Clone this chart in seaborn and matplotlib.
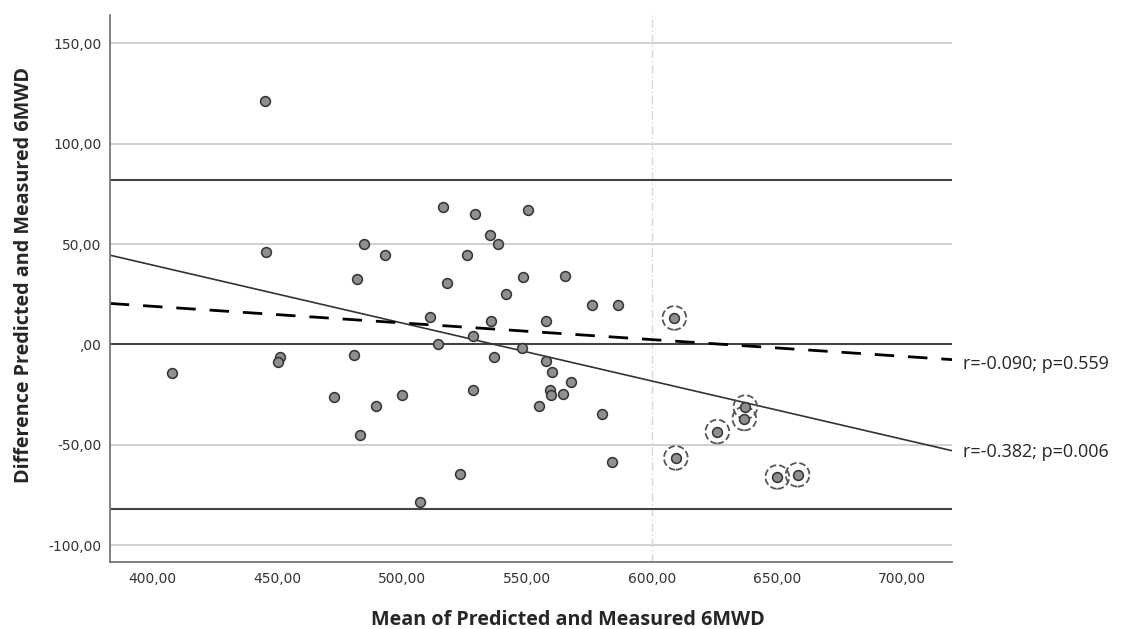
import numpy as np
import pandas as pd
import matplotlib
matplotlib.use("Agg")
import matplotlib.pyplot as plt
import seaborn as sns

# mean of predicted and measured 6MWD (x) / difference (y)
mean_main = [445.2, 445.3, 484.9, 493.1, 482.0, 516.4, 529.3, 550.2, 535.1, 538.4,
             525.9, 518.1, 548.4, 565.0, 541.4, 576.0, 586.3, 511.0, 535.5, 557.6,
             528.4, 514.2, 547.8, 536.6, 557.6, 559.9, 567.7, 559.0, 559.4, 564.4,
             528.3, 499.8, 554.6, 579.8, 584.0, 523.2, 507.1, 451.2, 450.2, 480.7,
             407.7, 472.7, 489.7, 483.0]
diff_main = [121.0, 46.2, 50.0, 44.4, 32.5, 68.5, 64.9, 66.9, 54.4, 49.9,
             44.4, 30.5, 33.5, 34.0, 24.9, 19.7, 19.4, 13.7, 11.9, 11.7,
             4.0, 0.4, -1.9, -6.2, -8.3, -13.9, -18.5, -22.7, -25.0, -24.5,
             -22.5, -25.2, -30.7, -34.7, -58.5, -64.4, -78.3, -6.5, -8.5, -5.4,
             -14.4, -26.4, -30.5, -45.2]

# circled points
mean_circled = [608.9, 637.3, 636.9, 626.1, 609.5, 650.1, 658.2]
diff_circled = [13.2, -31.2, -36.9, -43.4, -56.5, -66.0, -64.9]

bias = 0.0
loa_upper = 82.0
loa_lower = -82.0
ref_x = 600.0

# dashed fit (intercept, slope)
dashed_intercept = 52.2
dashed_slope = -0.083

y_ticks = [-100, -50, 0, 50, 100, 150]
x_ticks = [400, 450, 500, 550, 600, 650, 700]
r_labels = ["r=-0.090; p=0.559", "r=-0.382; p=0.006"]

df_main = pd.DataFrame({"mean": mean_main, "diff": diff_main})
df_out = pd.DataFrame({"mean": mean_circled, "diff": diff_circled})
df_all = pd.concat([df_main, df_out], ignore_index=True)

sns.set_style("white")
plt.rcParams["font.family"] = ["DejaVu Sans"]

fig = plt.figure(figsize=(11.32, 6.29), dpi=100)
ax = fig.add_axes([0.097, 0.106, 0.744, 0.870])
ax.set_xlim(383, 720)
ax.set_ylim(-108.5, 164)

# gridlines + reference lines
for t in y_ticks:
    ax.axhline(t, color="#c8c8c8", lw=1.2, zorder=0)
ax.axvline(ref_x, color="#d8d8d8", lw=1.0, ls=(0, (6, 2, 1, 2)), zorder=0)
ax.axhline(bias, color="#444444", lw=1.5, zorder=1)
ax.axhline(loa_upper, color="#444444", lw=1.5, zorder=1)
ax.axhline(loa_lower, color="#444444", lw=1.5, zorder=1)

# regression line over all points
sns.regplot(data=df_all, x="mean", y="diff", scatter=False, ci=None, truncate=False,
            ax=ax, line_kws={"color": "#333333", "lw": 1.2, "zorder": 2})
# dashed line without the circled points
ax.axline((0, dashed_intercept), slope=dashed_slope, color="black", lw=2,
          ls=(0, (7, 5)), zorder=2)

# points
sns.scatterplot(data=df_all, x="mean", y="diff", s=50, color="#8f8f8f",
                edgecolor="#333333", linewidth=1.1, ax=ax, zorder=4)
ax.scatter(mean_circled, diff_circled, s=290, facecolors="none", edgecolors="#555555",
           linewidths=1.3, linestyles="--", zorder=3)

ax.set_xlim(383, 720)
ax.set_ylim(-108.5, 164)

ax.set_xticks(x_ticks)
ax.set_xticklabels([f"{v:.2f}".replace(".", ",") for v in x_ticks])
ax.set_yticks(y_ticks)
ax.set_yticklabels([(f"{v:.2f}".replace(".", ",") if v != 0 else ",00") for v in y_ticks])
ax.tick_params(axis="both", length=0, labelsize=10, labelcolor="#333333", pad=7)
ax.tick_params(axis="y", pad=6)

sns.despine(ax=ax)
ax.spines["left"].set_color("#777777")
ax.spines["bottom"].set_color("#777777")
ax.spines["left"].set_linewidth(1.3)
ax.spines["bottom"].set_linewidth(1.3)

ax.set_xlabel("Mean of Predicted and Measured 6MWD", fontsize=14.2, fontweight="bold",
              family=["Open Sans", "DejaVu Sans"], va="center")
ax.set_ylabel("Difference Predicted and Measured 6MWD", fontsize=14.2, fontweight="bold",
              family=["Open Sans", "DejaVu Sans"], va="center")
ax.xaxis.set_label_coords(0.544, -0.106)
ax.yaxis.set_label_coords(-0.102, 0.525)

ax.text(724.5, -9.5, r_labels[0], fontsize=13, family=["Open Sans", "DejaVu Sans"],
        va="center", ha="left", clip_on=False)
ax.text(724.5, -53.5, r_labels[1], fontsize=13, family=["Open Sans", "DejaVu Sans"],
        va="center", ha="left", clip_on=False)

fig.savefig("out.png", dpi=100, facecolor="white")
